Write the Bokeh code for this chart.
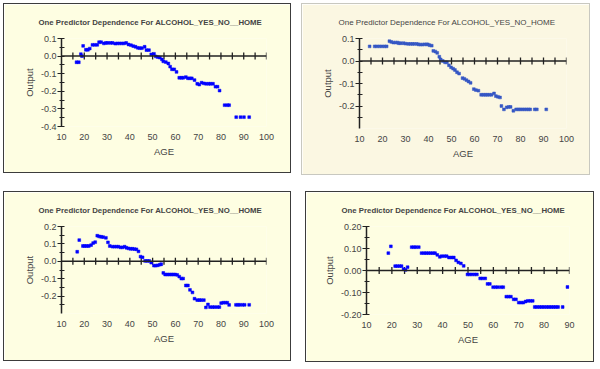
import numpy as np
from bokeh.plotting import figure
from bokeh.layouts import column, row
from bokeh.models import Range1d, Span, SingleIntervalTicker, NumeralTickFormatter, ColumnDataSource
from bokeh.embed import file_html
from bokeh.resources import INLINE

TITLE_A = "One Predictor Dependence For ALCOHOL_YES_NO__HOME"
TITLE_B = "One Predictor Dependence For ALCOHOL_YES_NO_HOME"
X_LABEL = "AGE"
Y_LABEL = "Output"

# Panel 1 (top left)
age1 = [16.6, 17.6, 18.5, 19.0, 19.5, 20.7, 21.6, 22.4, 23.6, 24.6, 25.7, 26.5, 27.4, 28.6,
        29.5, 30.3, 31.5, 32.4, 33.6, 34.5, 35.5, 36.5, 37.4, 38.4, 39.4, 40.5, 41.5, 42.5,
        43.5, 44.4, 45.3, 46.5, 47.3, 48.4, 49.4, 50.6, 51.4, 52.3, 53.2, 54.1, 54.7, 55.8,
        56.9, 57.7, 58.5, 59.5, 60.5, 61.7, 62.6, 63.4, 64.6, 65.5, 66.4, 67.2, 68.4, 69.6,
        70.5, 71.5, 72.5, 73.5, 74.6, 75.4, 76.5, 77.6, 78.5, 79.4, 81.6, 82.8, 83.6, 86.7,
        88.6, 90.1, 92.4]
out1 = [-0.035, -0.035, 0.011, 0.0, 0.058, 0.036, 0.036, 0.043, 0.064, 0.064, 0.064, 0.079, 0.079, 0.072,
        0.075, 0.075, 0.075, 0.075, 0.071, 0.072, 0.072, 0.072, 0.072, 0.075, 0.066, 0.062, 0.057, 0.053,
        0.047, 0.045, 0.045, 0.053, 0.034, 0.034, 0.010, 0.013, -0.002, -0.006, -0.009, -0.019, -0.030, -0.034,
        -0.042, -0.060, -0.075, -0.075, -0.090, -0.123, -0.123, -0.123, -0.119, -0.126, -0.126, -0.126, -0.136, -0.157,
        -0.162, -0.151, -0.155, -0.157, -0.157, -0.157, -0.157, -0.174, -0.174, -0.196, -0.279, -0.279, -0.279, -0.347,
        -0.347, -0.347, -0.347]

# Panel 2 (top right)
age2 = [14.4, 16.6, 17.6, 18.7, 19.8, 20.9, 21.8, 23.0, 23.8, 24.7, 25.6, 26.5, 27.1, 28.0,
        29.2, 30.1, 31.2, 32.1, 33.0, 33.8, 34.9, 35.6, 36.4, 37.3, 38.2, 39.1, 39.7, 40.5,
        41.4, 42.1, 43.0, 43.8, 44.7, 45.3, 46.2, 47.2, 48.0, 48.9, 49.8, 50.7, 51.5, 52.4,
        53.3, 54.8, 55.6, 56.5, 57.4, 58.3, 59.7, 60.6, 61.7, 62.9, 63.8, 64.7, 65.5, 66.4,
        67.4, 68.5, 69.3, 70.2, 71.1, 71.7, 72.8, 74.0, 74.9, 75.7, 76.9, 78.1, 79.0, 79.8,
        80.7, 81.6, 82.5, 83.4, 84.2, 86.2, 87.1, 91.2]
out2 = [0.065, 0.065, 0.065, 0.065, 0.065, 0.065, 0.065, 0.088, 0.085, 0.082, 0.082, 0.082, 0.079, 0.079,
        0.079, 0.077, 0.076, 0.076, 0.076, 0.076, 0.076, 0.074, 0.073, 0.073, 0.074, 0.074, 0.074, 0.070,
        0.068, 0.045, 0.042, 0.036, 0.019, 0.007, 0.0, -0.006, -0.006, -0.019, -0.028, -0.034, -0.040, -0.050,
        -0.056, -0.076, -0.079, -0.085, -0.091, -0.097, -0.125, -0.129, -0.132, -0.150, -0.150, -0.150, -0.150, -0.150,
        -0.150, -0.144, -0.156, -0.159, -0.162, -0.200, -0.215, -0.206, -0.204, -0.204, -0.221, -0.215, -0.215, -0.215,
        -0.215, -0.215, -0.215, -0.215, -0.215, -0.215, -0.215, -0.215]

# Panel 3 (bottom left)
age3 = [16.9, 17.8, 19.4, 20.2, 21.1, 22.0, 23.0, 23.9, 24.8, 25.7, 26.5, 27.4, 28.3, 29.5,
        30.4, 31.2, 32.4, 33.3, 34.2, 35.0, 35.9, 36.8, 37.7, 38.5, 39.4, 40.3, 41.2, 42.1,
        42.9, 43.8, 44.7, 45.6, 46.7, 47.6, 48.5, 49.4, 50.6, 51.4, 52.3, 53.2, 53.8, 54.7,
        55.5, 56.4, 57.3, 58.2, 59.0, 59.9, 60.8, 61.7, 62.6, 63.4, 64.6, 65.5, 66.4, 67.5,
        68.4, 69.6, 70.5, 71.3, 72.5, 73.4, 74.3, 75.2, 76.3, 77.2, 78.4, 79.3, 80.1, 81.0,
        81.9, 82.8, 83.6, 86.6, 87.5, 88.3, 89.5, 90.4, 92.4]
out3 = [0.055, 0.122, 0.088, 0.088, 0.088, 0.088, 0.093, 0.105, 0.110, 0.147, 0.143, 0.141, 0.139, 0.135,
        0.109, 0.088, 0.084, 0.084, 0.084, 0.084, 0.080, 0.080, 0.084, 0.078, 0.074, 0.072, 0.072, 0.070,
        0.069, 0.057, 0.027, 0.023, 0.002, 0.002, 0.002, -0.008, -0.025, -0.025, -0.023, -0.019, -0.017, -0.067,
        -0.076, -0.076, -0.076, -0.076, -0.076, -0.076, -0.078, -0.088, -0.099, -0.099, -0.139, -0.139, -0.164, -0.179,
        -0.215, -0.223, -0.223, -0.223, -0.223, -0.265, -0.248, -0.263, -0.263, -0.263, -0.263, -0.263, -0.240, -0.238,
        -0.238, -0.238, -0.251, -0.250, -0.250, -0.250, -0.250, -0.250, -0.250]

# Panel 4 (bottom right)
age4 = [18.6, 19.6, 21.3, 22.1, 23.0, 23.8, 24.6, 25.4, 26.2, 27.8, 28.7, 29.5, 30.6, 31.7,
        32.7, 33.5, 34.4, 35.3, 36.2, 37.0, 37.9, 38.9, 39.6, 40.7, 41.6, 42.5, 43.5, 44.4,
        45.3, 46.2, 47.2, 48.3, 49.8, 50.7, 51.6, 52.6, 53.5, 54.8, 55.7, 56.8, 57.7, 58.6,
        59.9, 60.9, 61.8, 63.0, 63.9, 65.1, 66.0, 66.9, 68.0, 68.9, 70.0, 70.9, 71.8, 72.7,
        73.6, 74.6, 75.5, 76.3, 77.2, 78.2, 79.1, 80.0, 81.0, 81.9, 82.8, 83.7, 84.6, 85.5,
        87.3, 89.2]
out4 = [0.079, 0.110, 0.020, 0.020, 0.020, 0.020, 0.006, 0.003, 0.015, 0.106, 0.106, 0.106, 0.106, 0.079,
        0.079, 0.079, 0.079, 0.079, 0.079, 0.079, 0.071, 0.062, 0.065, 0.065, 0.065, 0.059, 0.059, 0.059,
        0.046, 0.037, 0.032, 0.021, -0.018, -0.018, -0.018, -0.018, -0.018, -0.036, -0.036, -0.036, -0.061, -0.061,
        -0.076, -0.076, -0.076, -0.076, -0.076, -0.119, -0.119, -0.119, -0.131, -0.131, -0.146, -0.146, -0.146, -0.141,
        -0.138, -0.138, -0.138, -0.166, -0.166, -0.166, -0.166, -0.166, -0.166, -0.166, -0.166, -0.166, -0.166, -0.166,
        -0.166, -0.075]

FONT = "Liberation Sans"


def make_panel(ages, outs, y_start, y_end, x_end, fmt, w, h, mb, bg, border, title,
               title_bold, title_offset, marker_color):
    p = figure(width=w, height=h, x_range=Range1d(10, x_end), y_range=Range1d(y_start, y_end),
               output_backend="svg", toolbar_location=None,
               min_border_left=mb[0], min_border_right=mb[1], min_border_top=mb[2],
               min_border_bottom=mb[3],
               background_fill_color=bg, border_fill_color=bg, outline_line_color=None,
               styles={"border": border})
    p.title.text = title
    p.title.align = "left"
    p.title.vertical_align = "top"
    p.title.offset = title_offset
    p.title.text_font = FONT
    p.title.text_font_size = "7.8px" if title_bold else "8px"
    p.title.text_font_style = "bold" if title_bold else "normal"
    p.title.standoff = 19
    p.grid.visible = False

    xa = p.xaxis[0]
    xa.ticker = SingleIntervalTicker(interval=10)
    xa.axis_line_color = None
    xa.major_tick_line_color = None
    xa.minor_tick_line_color = None
    xa.major_tick_out = 0
    xa.major_tick_in = 0
    xa.major_label_standoff = 3
    xa.axis_label = X_LABEL
    xa.axis_label_standoff = 3
    xa.axis_label_text_font = FONT
    xa.axis_label_text_font_size = "9.5px"
    xa.axis_label_text_font_style = "normal"
    xa.major_label_text_font = FONT
    xa.major_label_text_font_size = "9px"

    ya = p.yaxis[0]
    ya.ticker = SingleIntervalTicker(interval=0.1, num_minor_ticks=2)
    ya.formatter = NumeralTickFormatter(format=fmt)
    ya.axis_line_color = "#222222"
    ya.axis_line_width = 1.5
    ya.major_tick_line_color = "#222222"
    ya.major_tick_line_width = 1.2
    ya.major_tick_out = 4
    ya.major_tick_in = 0
    ya.minor_tick_line_color = "#222222"
    ya.minor_tick_line_width = 1.2
    ya.minor_tick_out = 2
    ya.minor_tick_in = 3
    ya.major_label_standoff = 1
    ya.axis_label = Y_LABEL
    ya.axis_label_standoff = 3
    ya.axis_label_text_font = FONT
    ya.axis_label_text_font_size = "9.5px"
    ya.axis_label_text_font_style = "normal"
    ya.major_label_text_font = FONT
    ya.major_label_text_font_size = "9px"

    p.add_layout(Span(location=0, dimension="width", line_color="#222222", line_width=1.5))
    tick_x = list(np.arange(15, x_end + 0.1, 5))
    p.scatter(tick_x, [0] * len(tick_x), marker="dash", angle=np.pi / 2, size=7,
              line_color="#222222", line_width=1.3)

    src = ColumnDataSource(dict(age=ages, out=outs))
    p.scatter("age", "out", source=src, marker="square", size=2.8,
              fill_color=marker_color, line_color=marker_color, line_width=0.5)
    return p


CREAM = "#FEFEE2"
BEIGE = "#FBF7E2"
DARK = "1px solid #3c3c3c"
LIGHT = "1px solid #c8c8c0"

p1 = make_panel(age1, out1, -0.4, 0.1, 100, "0.0", 288, 170, (57, 26, 34, 48), CREAM, DARK,
                TITLE_A, True, -23, "#0000FF")
p2 = make_panel(age2, out2, -0.3, 0.1, 100, "0.0", 289, 172, (57, 25, 34, 47), BEIGE, LIGHT,
                TITLE_B, False, -21, "#3557C4")
p3 = make_panel(age3, out3, -0.3, 0.2, 100, "0.0", 288, 170, (57, 26, 33, 49), CREAM, DARK,
                TITLE_A, True, -23, "#0000FF")
p4 = make_panel(age4, out4, -0.2, 0.2, 90, "0.00", 289, 171, (60, 26, 34, 48), CREAM, DARK,
                TITLE_A, True, -25, "#0000FF")

layout = column(row(p1, p2, spacing=10), row(p3, p4, spacing=14), spacing=16,
                styles={"position": "absolute", "left": "3px", "top": "3px"})

open("out.html", "w").write(file_html(layout, INLINE))
